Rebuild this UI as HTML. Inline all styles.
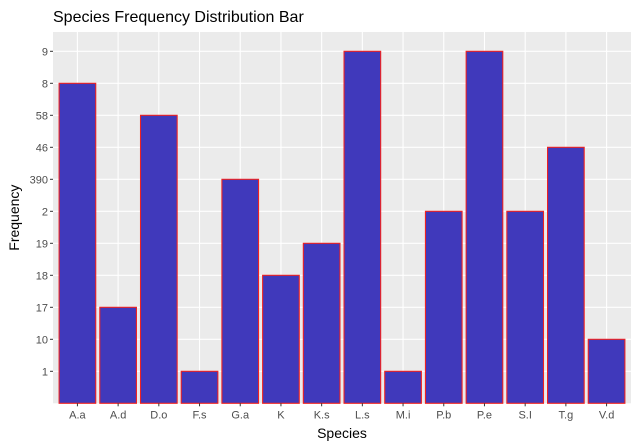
<!DOCTYPE html>
<html><head><meta charset="utf-8"><style>body{margin:0;background:#fff}svg{display:block;font-family:"Liberation Sans",sans-serif}</style></head>
<body>
<svg id="c" width="639" height="448"></svg>
<script>
const categories=["A.a","A.d","D.o","F.s","G.a","K","K.s","L.s","M.i","P.b","P.e","S.I","T.g","V.d"];
const yLevels=["1","10","17","18","19","2","390","46","58","8","9"];
const values=["8","17","58","1","390","18","19","9","1","2","9","2","46","10"];
const ns="http://www.w3.org/2000/svg",svg=document.getElementById('c');
function mk(t,a,p){const e=document.createElementNS(ns,t);for(const k in a)e.setAttribute(k,a[k]);(p||svg).appendChild(e);return e;}
const L=53,R=631,T=32,B=403.3;
const step=(R-L)/(categories.length-1+1.2);
const xs=i=>L+step*(0.6+i);
const ystep=32;
const ys=lv=>B-ystep*(lv+1);
const bg=mk('rect',{x:L,y:T,width:R-L,height:B-T,fill:'#ebebeb'});

for(let i=0;i<yLevels.length;i++){mk('line',{x1:L,x2:R,y1:ys(i),y2:ys(i),stroke:'#fff','stroke-width':1.1});}
categories.forEach((c,i)=>mk('line',{x1:xs(i),x2:xs(i),y1:T,y2:B,stroke:'#fff','stroke-width':1.1}));
categories.forEach((c,i)=>{
 const lv=yLevels.indexOf(values[i]);const w=step*0.9;
 const r=mk('rect',{x:xs(i)-w/2,y:ys(lv),width:w,height:B-ys(lv),fill:'#4039BB',stroke:'#ee2222','stroke-width':1.1});
 
 
 mk('line',{x1:xs(i),x2:xs(i),y1:B,y2:B+3,stroke:'#333'});
 const t=mk('text',{x:xs(i),y:B+15,'text-anchor':'middle','font-size':11,fill:'#4d4d4d'});t.textContent=c;
 
});
yLevels.forEach((l,i)=>{
 mk('line',{x1:L-3,x2:L,y1:ys(i),y2:ys(i),stroke:'#333'});
 const t=mk('text',{x:L-5,y:ys(i)+4,'text-anchor':'end','font-size':11,fill:'#4d4d4d'});t.textContent=l;
 
});
let t=mk('text',{x:L,y:22,'font-size':16,fill:'#000'});t.textContent='Species Frequency Distribution Bar';

t=mk('text',{x:(L+R)/2,y:438,'text-anchor':'middle','font-size':14,fill:'#000'});t.textContent='Species';

t=mk('text',{x:0,y:0,'text-anchor':'middle','font-size':14,fill:'#000',transform:`translate(19,${(T+B)/2}) rotate(-90)`});t.textContent='Frequency';

</script>
</body></html>
